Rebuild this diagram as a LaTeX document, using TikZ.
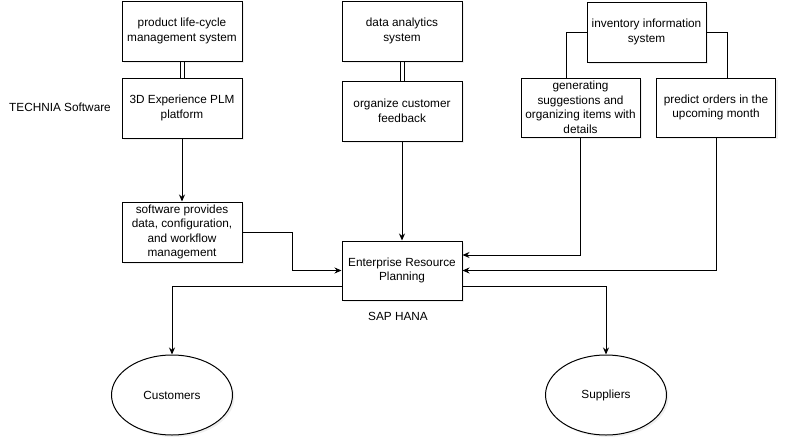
\documentclass[tikz,border=0pt]{standalone}
\usepackage{fontspec}
\setmainfont{Liberation Sans}
\usetikzlibrary{arrows.meta,shapes.geometric,shadows}
\begin{document}
\begin{tikzpicture}[x=1pt,y=-1pt,line width=1pt,font=\fontsize{11.8}{14.5}\selectfont]
	\tikzset{box/.style={draw,fill=white,minimum width=120pt,minimum height=60pt,align=center,inner sep=1pt,
			drop shadow={shadow xshift=2pt,shadow yshift=-2pt,fill=black!12}},
		oval/.style={ellipse,draw,fill=white,minimum width=121pt,minimum height=80pt,
			drop shadow={shadow xshift=2pt,shadow yshift=-2pt,fill=black!12}},
		arr/.style={-{Stealth[length=7pt,width=6pt]}}}
	\useasboundingbox (0,0) rectangle (787,447);
	% top row
	\node[box] (plm) at (182,31) {product life-cycle\\management system};
	\node[box] (analytics) at (402,31) {data analytics\\system};
	\node[box,minimum width=119pt] (inventory) at (646.5,32) {inventory information\\system};
	% second row
	\node[box] (threed) at (182,108) {3D Experience PLM\\platform};
	\node[box] (organize) at (402,111) {organize customer\\feedback};
	\node[box,minimum width=119pt,minimum height=59pt] (generating) at (580.5,107.5) {generating\\suggestions and\\organizing items with\\details};
	\node[box,minimum width=119pt,minimum height=59pt] (predict) at (716,107.5) {predict orders in the\\upcoming month};
	% middle
	\node[box] (software) at (182,232) {software provides\\data, configuration,\\and workflow\\management};
	\node[box,minimum height=59pt] (erp) at (402,270.5) {Enterprise Resource\\Planning};
	% ends
	\node[oval] (customers) at (172,395) {Customers};
	\node[oval] (suppliers) at (606,395) {Suppliers};
	% labels
	\node (technia) at (60,107) {TECHNIA Software};
	\node (sap) at (398,316) {SAP HANA};
	% links
	\foreach \s in {-2,2} {
		\draw ([xshift=\s pt]plm.south) -- ([xshift=\s pt]threed.north);
		\draw ([xshift=\s pt]analytics.south) -- ([xshift=\s pt]organize.north);
	}
	\draw (inventory.west) -| ([xshift=-14pt]generating.north);
	\draw (inventory.east) -| ([xshift=11pt]predict.north);
	\draw[arr] (threed) -- (software);
	\draw[arr] (organize) -- (erp);
	\draw[arr] (software.east) -- ++(50,0) |- (erp.west);
	\draw[arr] (generating.south) |- ([yshift=15.5pt]erp.east);
	\draw[arr] (predict.south) |- (erp.east);
	\draw[arr] ([yshift=-15.5pt]erp.west) -| (customers.north);
	\draw[arr] ([yshift=-15.5pt]erp.east) -| (suppliers.north);
\end{tikzpicture}
\end{document}
